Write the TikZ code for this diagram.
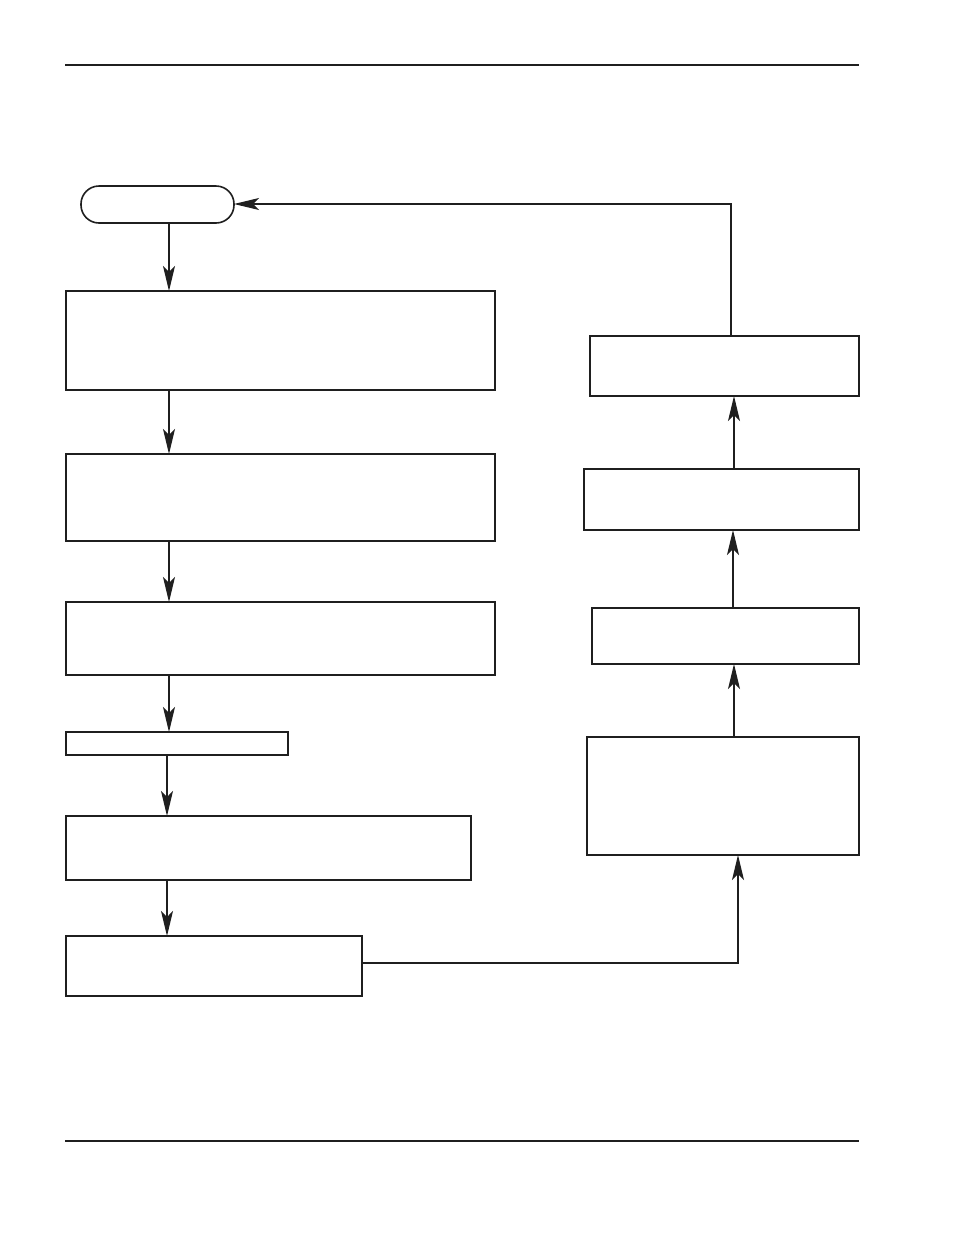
\documentclass[tikz,border=0pt]{standalone}
\usetikzlibrary{arrows.meta}
\begin{document}
\begin{tikzpicture}[x=1pt,y=-1pt,
  box/.style={draw=black!88,line width=2pt,rectangle,inner sep=0pt,outer sep=0pt,anchor=north west},
  term/.style={draw=black!88,line width=1.6pt,rectangle,rounded corners=18pt,inner sep=0pt,outer sep=0pt,anchor=north west},
  arr/.style={draw=black!88,line width=1.2pt,-{Stealth[length=25pt,width=12pt,inset=6pt]}},
  conn/.style={draw=black!88,line width=1.2pt}]
\useasboundingbox (0,0) rectangle (954,1235);
% rules
\draw[black!88,line width=1.2pt] (65,65) -- (859,65);
\draw[black!88,line width=2.6pt] (65,1141) -- (859,1141);
% nodes
\node[term,minimum width=153pt,minimum height=37pt] (st) at (81,186) {};
\node[box,minimum width=429pt,minimum height=99pt] (b1) at (66,291) {};
\node[box,minimum width=429pt,minimum height=87pt] (b2) at (66,454) {};
\node[box,minimum width=429pt,minimum height=73pt] (b3) at (66,602) {};
\node[box,minimum width=222pt,minimum height=23pt] (b4) at (66,732) {};
\node[box,minimum width=405pt,minimum height=64pt] (b5) at (66,816) {};
\node[box,minimum width=296pt,minimum height=60pt] (b6) at (66,936) {};
\node[box,minimum width=269pt,minimum height=60pt] (r1) at (590,336) {};
\node[box,minimum width=275pt,minimum height=61pt] (r2) at (584,469) {};
\node[box,minimum width=267pt,minimum height=56pt] (r3) at (592,608) {};
\node[box,minimum width=272pt,minimum height=118pt] (r4) at (587,737) {};
% guide coordinates
\coordinate (xa) at (169,0);
\coordinate (xb) at (167,0);
\coordinate (xc) at (738,963);
\coordinate (xd) at (734,0);
\coordinate (xe) at (733,0);
\coordinate (xf) at (731,204);
% left column
\draw[arr] (st.south -| xa) -- (b1.north -| xa);
\draw[arr] (b1.south -| xa) -- (b2.north -| xa);
\draw[arr] (b2.south -| xa) -- (b3.north -| xa);
\draw[arr] (b3.south -| xa) -- (b4.north -| xa);
\draw[arr] (b4.south -| xb) -- (b5.north -| xb);
\draw[arr] (b5.south -| xb) -- (b6.north -| xb);
% bottom link to right column
\draw[arr] (b6.east |- xc) -- (xc) -- (r4.south -| xc);
% right column upward
\draw[arr] (r4.north -| xd) -- (r3.south -| xd);
\draw[arr] (r3.north -| xe) -- (r2.south -| xe);
\draw[arr] (r2.north -| xd) -- (r1.south -| xd);
% return to start
\draw[arr] (r1.north -| xf) -- (xf) -- (st.east |- xf);
\end{tikzpicture}
\end{document}
